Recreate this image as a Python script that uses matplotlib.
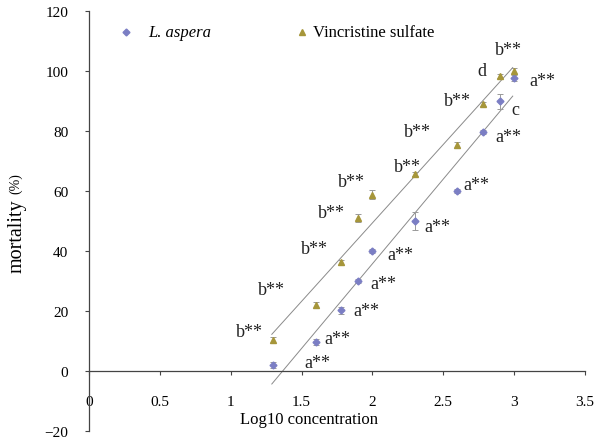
import numpy as np
import matplotlib.pyplot as plt

# ---------------- data ----------------
log_conc = [1.30, 1.60, 1.78, 1.90, 2.00, 2.30, 2.60, 2.78, 2.90, 3.00]

aspera_mort = [2.0, 9.7, 20.3, 30.0, 40.0, 50.0, 60.0, 79.7, 90.0, 97.7]
aspera_err = [1.0, 1.0, 1.2, 0.8, 0.6, 3.0, 0.8, 0.6, 2.5, 1.0]

vinc_mort = [10.3, 22.0, 36.3, 51.0, 58.7, 65.7, 75.3, 89.0, 98.3, 100.0]
vinc_err = [1.0, 1.0, 0.8, 1.2, 1.5, 0.8, 1.0, 0.6, 0.6, 1.0]

# significance letters (text, x, y)
upper_labels = [
    ("b**", 1.13, 13.3), ("b**", 1.29, 27.3), ("b**", 1.59, 40.7),
    ("b**", 1.71, 53.0), ("b**", 1.85, 63.3), ("b**", 2.25, 68.3),
    ("b**", 2.32, 79.7), ("b**", 2.60, 90.0), ("d", 2.77, 100.0),
    ("b**", 2.96, 107.3),
]
lower_labels = [
    ("a**", 1.61, 2.7), ("a**", 1.75, 10.7), ("a**", 1.96, 20.0),
    ("a**", 2.08, 29.3), ("a**", 2.20, 39.0), ("a**", 2.46, 48.3),
    ("a**", 2.73, 62.0), ("a**", 2.96, 78.3), ("c", 3.01, 87.3),
    ("a**", 3.20, 96.7),
]

x_ticks = [0, 0.5, 1, 1.5, 2, 2.5, 3, 3.5]
x_tick_labels = ["0", "0.5", "1", "1.5", "2", "2.5", "3", "3.5"]
y_ticks = [-20, 0, 20, 40, 60, 80, 100, 120]
y_tick_labels = ['\u221220', '0', '20', '40', '60', '80', '100', '120']

blue = '#7b7ec4'
olive = '#a6963a'

plt.rcParams['font.family'] = ['Liberation Serif', 'DejaVu Serif']

fig = plt.figure(figsize=(5.94, 4.39), dpi=100)
ax = fig.add_axes([89 / 594, 7 / 439, 496 / 594, 420 / 439])

ax.errorbar(log_conc, aspera_mort, yerr=aspera_err, fmt='D', color=blue,
            markersize=3.5, ecolor='#999999', elinewidth=0.7, capsize=2,
            capthick=0.7, zorder=3)
ax.errorbar(log_conc, vinc_mort, yerr=vinc_err, fmt='^', color=olive,
            markersize=4, ecolor='#999999', elinewidth=0.7, capsize=2,
            capthick=0.7, zorder=3)

# linear fits
xs = np.array([log_conc[0] - 0.01, log_conc[-1] - 0.01])
for yvals in (vinc_mort, aspera_mort):
    k, b = np.polyfit(log_conc, yvals, 1)
    ax.plot(xs, k * xs + b, color='#8a8a8a', linewidth=0.7, zorder=2)

for txt, x, y in upper_labels + lower_labels:
    ax.text(x, y, txt, fontsize=13, ha='center', va='center', color='#222222')

# legend drawn as plain markers + text
ax.plot(0.26, 113, 'D', color=blue, markersize=3.5)
ax.text(0.42, 113, 'L. aspera', fontsize=12, style='italic', va='center')
ax.plot(1.50, 113, '^', color=olive, markersize=4)
ax.text(1.58, 113, 'Vincristine sulfate', fontsize=12, va='center')

ax.set_xlim(0, 3.5)
ax.set_ylim(-20, 120)
ax.set_xticks(x_ticks)
ax.set_xticklabels(x_tick_labels)
ax.set_yticks(y_ticks)
ax.set_yticklabels(y_tick_labels)

ax.spines['top'].set_visible(False)
ax.spines['right'].set_visible(False)
ax.spines['bottom'].set_position(('data', 0))
for sp in ('left', 'bottom'):
    ax.spines[sp].set_color('#444444')
    ax.spines[sp].set_linewidth(0.9)

ax.tick_params(axis='x', direction='out', length=3, pad=14, labelsize=11,
               color='#444444')
ax.tick_params(axis='y', direction='out', length=3, pad=12, labelsize=11,
               color='#444444')

ax.text(1.55, -16.0, 'Log10 concentration', fontsize=12, ha='center', va='center')

# y label: "mortality" with a smaller "(%)"
fig.text(17 / 594, (439 - 273) / 439, 'mortality', fontsize=14.5,
         rotation=90, ha='center', va='bottom')
fig.text(16 / 594, (439 - 194) / 439, '(%)', fontsize=10,
         rotation=90, ha='center', va='bottom')

fig.savefig('out.png', dpi=100)
